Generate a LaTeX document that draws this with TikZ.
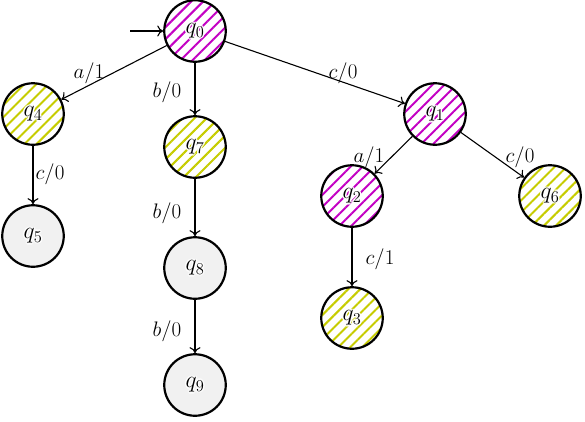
\RequirePackage{fix-cm}
\documentclass[tikz,border=0pt]{standalone}
\usetikzlibrary{patterns.meta,calc,arrows.meta}
\definecolor{mag}{RGB}{195,0,195}
\definecolor{yel}{RGB}{198,204,0}
\definecolor{lgray}{RGB}{241,241,241}
\tikzset{
  stnode/.style={circle, draw=black, line width=2.2pt, minimum size=61.5pt, inner sep=0pt},
  magst/.style={stnode, pattern={Lines[angle=45,distance=8.5pt,line width=2pt]}, pattern color=mag},
  yelst/.style={stnode, pattern={Lines[angle=45,distance=8.5pt,line width=2pt]}, pattern color=yel},
  grayst/.style={stnode, fill=lgray},
  edge/.style={line width=1.1pt, -{Computer Modern Rightarrow[length=6pt,width=11pt]}},
  elab/.style={font=\fontsize{21}{25}\selectfont, inner sep=2pt},
  stlab/.style={font=\fontsize{23.5}{28}\selectfont, inner sep=0pt}
}
\newcommand\mkstate[4]{%
  \node[#4] (#1) at (#2) {};
  \foreach \dx/\dy in {1.5/0,-1.5/0,0/1.5,0/-1.5,1.1/1.1,-1.1/1.1,1.1/-1.1,-1.1/-1.1}
    \node[stlab, text=white] (#1w) at ($(#1)+(\dx pt,\dy pt)$) {#3};
  \node[stlab] (#1l) at (#1) {#3};
}
\begin{document}
\begin{tikzpicture}[x=1pt,y=-1pt]
\useasboundingbox (0,0) rectangle (585,421);
\mkstate{q0}{195,31}{$q_0$}{magst}
\mkstate{q4}{33,114}{$q_4$}{yelst}
\mkstate{q7}{195,147}{$q_7$}{yelst}
\mkstate{q1}{435,114}{$q_1$}{magst}
\mkstate{q2}{352,196}{$q_2$}{magst}
\mkstate{q6}{550,196}{$q_6$}{yelst}
\mkstate{q5}{33,236}{$q_5$}{grayst}
\mkstate{q8}{195,268}{$q_8$}{grayst}
\mkstate{q3}{352,318}{$q_3$}{yelst}
\mkstate{q9}{195,385}{$q_9$}{grayst}
\coordinate (init) at (130,31);
\draw[edge] (init) -- (q0);
\draw[edge] (q0) -- (q4);
\draw[edge] (q0) -- (q7);
\draw[edge] (q0) -- (q1);
\draw[edge] (q4) -- (q5);
\draw[edge] (q7) -- (q8);
\draw[edge] (q8) -- (q9);
\draw[edge] (q1) -- (q2);
\draw[edge] (q1) -- (q6);
\draw[edge] (q2) -- (q3);
\node[elab] (l1) at (89,73) {$a/1$};
\node[elab] (l2) at (167,92) {$b/0$};
\node[elab] (l3) at (343,73) {$c/0$};
\node[elab] (l4) at (50,174) {$c/0$};
\node[elab] (l5) at (167,213) {$b/0$};
\node[elab] (l6) at (167,331) {$b/0$};
\node[elab] (l7) at (369,157) {$a/1$};
\node[elab] (l8) at (520,157) {$c/0$};
\node[elab] (l9) at (380,259) {$c/1$};
\end{tikzpicture}
\end{document}
